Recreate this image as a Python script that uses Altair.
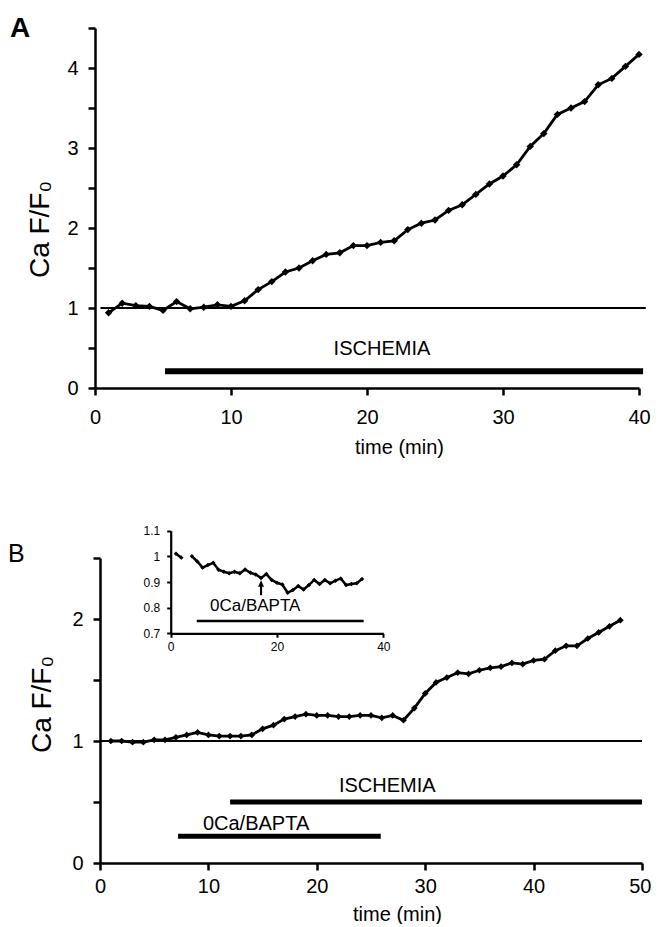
import altair as alt
import pandas as pd

FONT = "Liberation Sans"

# ---------------- Panel A data ----------------
a_time = list(range(1, 41))
a_ratio = [0.94, 1.06, 1.03, 1.02, 0.97, 1.08, 0.99, 1.01, 1.04, 1.02,
           1.09, 1.23, 1.33, 1.45, 1.50, 1.59, 1.67, 1.69, 1.78, 1.78,
           1.82, 1.84, 1.98, 2.06, 2.10, 2.22, 2.29, 2.42, 2.55, 2.65,
           2.79, 3.02, 3.18, 3.42, 3.50, 3.58, 3.79, 3.87, 4.02, 4.17]
a_xticks = [0, 10, 20, 30, 40]
a_yticks = [0, 0.5, 1, 1.5, 2, 2.5, 3, 3.5, 4, 4.5]
a_bar_start = [5.15]
a_bar_end = [40.3]
a_bar_level = [0.21]
a_label_text = ["ISCHEMIA"]
a_label_t = [21.1]
a_label_v = [0.49]
a_base_start = [0.4]
a_base_end = [40.5]

# ---------------- Panel B data ----------------
b_time = list(range(1, 49))
b_ratio = [1.00, 1.00, 0.99, 0.99, 1.01, 1.01, 1.03, 1.05, 1.07, 1.05,
           1.04, 1.04, 1.04, 1.05, 1.10, 1.13, 1.18, 1.20, 1.22, 1.21,
           1.21, 1.20, 1.20, 1.21, 1.21, 1.19, 1.21, 1.17, 1.27, 1.39,
           1.48, 1.52, 1.56, 1.55, 1.58, 1.60, 1.61, 1.64, 1.63, 1.66,
           1.67, 1.74, 1.78, 1.78, 1.84, 1.89, 1.94, 1.99]
b_xticks = [0, 10, 20, 30, 40, 50]
b_yticks = [0, 0.5, 1, 1.5, 2, 2.5]
b_bar_start = [12.0, 7.2]
b_bar_end = [50.0, 25.9]
b_bar_level = [0.5, 0.22]
b_label_text = ["ISCHEMIA", "0Ca/BAPTA"]
b_label_t = [26.5, 14.4]
b_label_v = [0.63, 0.32]
b_base_start = [0.0]
b_base_end = [50.0]

# ---------------- Inset data ----------------
i_time = [1, 2] + list(range(4, 37))
i_ratio = [1.01, 0.995,
           1.00, 0.98, 0.956, 0.966, 0.975, 0.948, 0.94, 0.934, 0.94, 0.934,
           0.949, 0.936, 0.929, 0.916, 0.931, 0.908, 0.897, 0.89, 0.858, 0.869,
           0.884, 0.871, 0.888, 0.908, 0.892, 0.908, 0.895, 0.905, 0.914, 0.888,
           0.892, 0.895, 0.912]
i_segment = [1, 1] + [2] * 33
i_xticks = [0, 20, 40]
i_yticks = [0.7, 0.8, 0.9, 1.0, 1.1]
i_bar_start = [4.9]
i_bar_end = [36.3]
i_bar_level = [0.748]
i_label_text = ["0Ca/BAPTA"]
i_label_t = [15.9]
i_label_v = [0.806]
i_arrow_t = [17]
i_arrow_v = [0.878]

# ---------------- helpers ----------------
def main_axis_x(values, title_x, label_pad, title_pad):
    last = values[-1]
    return alt.Axis(values=values, title="time (min)", titleX=title_x,
                    titleFontSize=20, titlePadding=title_pad, labelFontSize=20,
                    labelPadding=label_pad, tickSize=7, tickWidth=2.5, domainWidth=2.5,
                    labelFlush=False, labelOverlap=False, titleFontWeight="normal",
                    labelAlign={"condition": {"test": f"datum.value === {last} && {last} === 50",
                                              "value": "right"}, "value": "center"},
                    labelOffset={"condition": {"test": f"datum.value === {last} && {last} === 50",
                                               "value": 9}, "value": 0})

# ---------------- Panel A ----------------
dfa = pd.DataFrame({"t": a_time, "v": a_ratio})
dfa_bar = pd.DataFrame({"s": a_bar_start, "e": a_bar_end, "v": a_bar_level})
dfa_lab = pd.DataFrame({"t": a_label_t, "v": a_label_v, "txt": a_label_text})
dfa_base = pd.DataFrame({"s": a_base_start, "e": a_base_end, "v": [1.0]})

xa_scale = alt.Scale(domain=[0, 40], nice=False, zero=False)
ya_scale = alt.Scale(domain=[0, 4.5], nice=False)
xa_axis = main_axis_x(a_xticks, 304, 12, 10)
ya_axis = alt.Axis(values=a_yticks, format="~g",
                   labelExpr="datum.value % 1 === 0 ? datum.label : ''",
                   title="Ca F/F\u2080", titleFontSize=28, titleX=-41, titleY=201,
                   titleFontWeight="normal", labelFontSize=20, labelPadding=10,
                   tickSize=7, tickWidth=2.5, domainWidth=2.5, labelOverlap=False)

def ax(f):
    return alt.X(f, scale=xa_scale, axis=xa_axis)

def ay(f):
    return alt.Y(f, scale=ya_scale, axis=ya_axis)

a_line = alt.Chart(dfa).mark_line(color="black", strokeWidth=2.8).encode(x=ax("t:Q"), y=ay("v:Q"))
a_pts = alt.Chart(dfa).mark_point(shape="diamond", filled=True, color="black", size=55, opacity=1).encode(
    x=ax("t:Q"), y=ay("v:Q"))
a_base = alt.Chart(dfa_base).mark_rule(color="black", strokeWidth=2).encode(x=ax("s:Q"), x2="e:Q", y=ay("v:Q"))
a_bar = alt.Chart(dfa_bar).mark_rule(color="black", strokeWidth=6).encode(x=ax("s:Q"), x2="e:Q", y=ay("v:Q"))
a_txt = alt.Chart(dfa_lab).mark_text(font=FONT, fontSize=20, color="black", baseline="middle").encode(
    x=ax("t:Q"), y=ay("v:Q"), text="txt:N")
a_letter = alt.Chart(pd.DataFrame({"txt": ["A"]})).mark_text(
    font=FONT, fontSize=28, fontWeight="bold", color="black", align="left", baseline="top").encode(
    x=alt.value(-85), y=alt.value(-13), text="txt:N")

panel_a = alt.layer(a_base, a_bar, a_line, a_pts, a_txt, a_letter).properties(width=544, height=360)

# ---------------- Panel B ----------------
dfb = pd.DataFrame({"t": b_time, "v": b_ratio})
dfb_bar = pd.DataFrame({"s": b_bar_start, "e": b_bar_end, "v": b_bar_level})
dfb_lab = pd.DataFrame({"t": b_label_t, "v": b_label_v, "txt": b_label_text})
dfb_base = pd.DataFrame({"s": b_base_start, "e": b_base_end, "v": [1.0]})

xb_scale = alt.Scale(domain=[0, 50], nice=False, zero=False, range=[5, 547])
yb_scale = alt.Scale(domain=[0, 2.5], nice=False)
xb_axis = main_axis_x(b_xticks, 302, 6, 8)
yb_axis = alt.Axis(values=b_yticks, orient="left", offset=-5, format="~g",
                   labelExpr="datum.value % 1 === 0 ? datum.label : ''",
                   title="Ca F/F\u2080", titleFontSize=28, titleX=-44, titleY=146,
                   titleFontWeight="normal", labelFontSize=20, labelPadding=10,
                   tickSize=7, tickWidth=2.5, domainWidth=2.5, labelOverlap=False)

def bx(f):
    return alt.X(f, scale=xb_scale, axis=xb_axis)

def by(f):
    return alt.Y(f, scale=yb_scale, axis=yb_axis)

b_line = alt.Chart(dfb).mark_line(color="black", strokeWidth=2.8).encode(x=bx("t:Q"), y=by("v:Q"))
b_pts = alt.Chart(dfb).mark_point(shape="diamond", filled=True, color="black", size=45, opacity=1).encode(
    x=bx("t:Q"), y=by("v:Q"))
b_base = alt.Chart(dfb_base).mark_rule(color="black", strokeWidth=2).encode(x=bx("s:Q"), x2="e:Q", y=by("v:Q"))
b_bar = alt.Chart(dfb_bar).mark_rule(color="black", strokeWidth=5).encode(x=bx("s:Q"), x2="e:Q", y=by("v:Q"))
b_txt = alt.Chart(dfb_lab).mark_text(font=FONT, fontSize=20, color="black", baseline="middle").encode(
    x=bx("t:Q"), y=by("v:Q"), text="txt:N")
b_letter = alt.Chart(pd.DataFrame({"txt": ["B"]})).mark_text(
    font=FONT, fontSize=25, color="black", align="left", baseline="top").encode(
    x=alt.value(-87), y=alt.value(-16), text="txt:N")

b_main = alt.layer(b_base, b_bar, b_line, b_pts, b_txt, b_letter)

# ---------------- Inset ----------------
dfi = pd.DataFrame({"t": i_time, "v": i_ratio, "seg": i_segment})
dfi_bar = pd.DataFrame({"s": i_bar_start, "e": i_bar_end, "v": i_bar_level})
dfi_lab = pd.DataFrame({"t": i_label_t, "v": i_label_v, "txt": i_label_text})
dfi_arrow = pd.DataFrame({"t": i_arrow_t, "v": i_arrow_v})

xi_scale = alt.Scale(domain=[0, 40], nice=False, zero=False, range=[75.7, 288.3])
yi_scale = alt.Scale(domain=[0.7, 1.1], nice=False, zero=False, range=[75.3, -27.3])
xi_axis = alt.Axis(values=i_xticks, orient="bottom", offset=-229.7, title=None,
                   labelFontSize=12, labelPadding=4, tickSize=4, tickWidth=2,
                   domainWidth=2.2, labelFlush=False, labelOverlap=False)
yi_axis = alt.Axis(values=i_yticks, orient="left", offset=-75.7, title=None,
                   format="~g", labelFontSize=12, labelPadding=7, tickSize=4, tickWidth=2,
                   domainWidth=2.2, labelOverlap=False)

def ix(f):
    return alt.X(f, scale=xi_scale, axis=xi_axis)

def iy(f):
    return alt.Y(f, scale=yi_scale, axis=yi_axis)

i_line = alt.Chart(dfi).mark_line(color="black", strokeWidth=2.5).encode(
    x=ix("t:Q"), y=iy("v:Q"), detail="seg:N")
i_pts = alt.Chart(dfi).mark_point(shape="diamond", filled=True, color="black", size=20, opacity=1).encode(
    x=ix("t:Q"), y=iy("v:Q"))
i_bar = alt.Chart(dfi_bar).mark_rule(color="black", strokeWidth=2.7).encode(x=ix("s:Q"), x2="e:Q", y=iy("v:Q"))
i_txt = alt.Chart(dfi_lab).mark_text(font=FONT, fontSize=17, color="black", baseline="middle").encode(
    x=ix("t:Q"), y=iy("v:Q"), text="txt:N")
i_arrow = alt.Chart(dfi_arrow).mark_point(shape="arrow", filled=True, color="black", size=225, opacity=1).encode(
    x=ix("t:Q"), y=iy("v:Q"))

inset = alt.layer(i_bar, i_line, i_pts, i_txt, i_arrow)

panel_b = alt.layer(b_main, inset).resolve_scale(x="independent", y="independent").properties(
    width=547, height=305)

chart = alt.vconcat(panel_a, panel_b, spacing=170, bounds="flush").properties(
    padding={"left": 0, "top": 7, "right": 0, "bottom": 0}
).configure(font=FONT).configure_view(stroke=None).configure_axis(
    grid=False, domainColor="black", tickColor="black", labelColor="black",
    titleColor="black", labelFont=FONT, titleFont=FONT)

chart.save("out.html", embed_options={"renderer": "svg", "actions": False})
